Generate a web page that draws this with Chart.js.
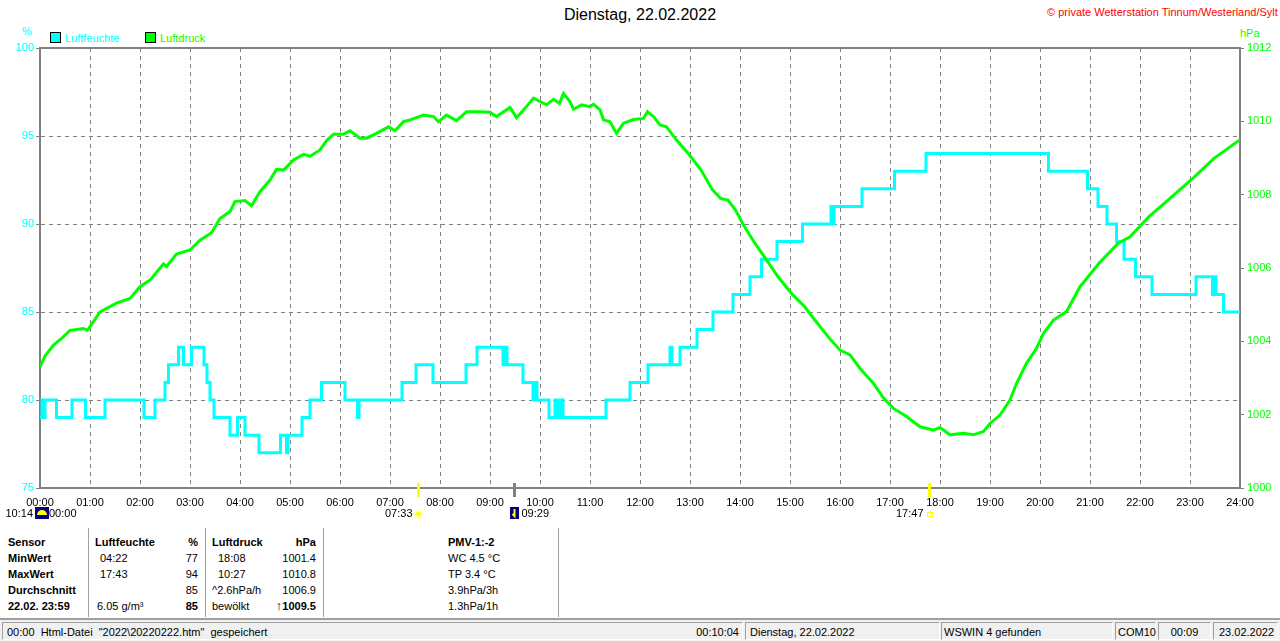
<!DOCTYPE html>
<html lang="de">
<head>
<meta charset="utf-8">
<title>Dienstag, 22.02.2022</title>
<script src="https://cdn.jsdelivr.net/npm/chart.js@4.4.1/dist/chart.umd.min.js"></script>
<style>
  body { margin: 0; width: 1280px; height: 641px; background: #fff; position: relative; overflow: hidden;
         font: 11px 'Liberation Sans', Arial, sans-serif; color: #000; }
  .a { position: absolute; white-space: nowrap; line-height: 16px; }
  .b { font-weight: bold; }
  .r { text-align: right; }
  #wrap { position: absolute; left: 0; top: 0; width: 1280px; height: 520px; }
  .sep { position: absolute; top: 528px; width: 1px; height: 89px; background: #a0a0a0; }
  #status { position: absolute; left: 0; top: 618px; width: 1280px; height: 23px; background: #f0f0f0;
            border-top: 2px solid #a0a0a0; box-sizing: border-box; }
  .pan { position: absolute; top: 2px; height: 18px; line-height: 18px; padding: 0 4px; box-sizing: border-box;
         border-top: 1px solid #a0a0a0; border-left: 1px solid #a0a0a0;
         border-right: 1px solid #fff; border-bottom: 1px solid #fff; white-space: nowrap; }
  .key { display: inline-block; width: 9px; height: 9px; border: 1px solid #000; vertical-align: -1px; margin-right: 4px; }
</style>
</head>
<body>

<div class="a" style="left:0;width:1280px;top:5px;text-align:center;font-size:16px;line-height:20px">Dienstag, 22.02.2022</div>
<div class="a" style="left:1047px;top:4px;color:#ff0000">&copy; private Wetterstation Tinnum/Westerland/Sylt</div>
<div class="a" style="left:22px;top:23px;color:#00ffff">%</div>
<div class="a" style="left:1240px;top:25px;color:#00ff00">hPa</div>
<div class="a" style="left:50px;top:30px;color:#00ffff"><span class="key" style="background:#00ffff"></span>Luftfeuchte</div>
<div class="a" style="left:145px;top:30px;color:#00ff00"><span class="key" style="background:#00ff00"></span>Luftdruck</div>

<div id="wrap"><canvas id="chart"></canvas></div>

<!-- Tabelle -->
<div class="a b" style="left:8px;top:534px">Sensor</div>
<div class="a b" style="left:8px;top:550px">MinWert</div>
<div class="a b" style="left:8px;top:566px">MaxWert</div>
<div class="a b" style="left:8px;top:582px">Durchschnitt</div>
<div class="a b" style="left:8px;top:598px">22.02. 23:59</div>
<div class="sep" style="left:88px"></div>

<div class="a b" style="left:95px;top:534px">Luftfeuchte</div>
<div class="a b r" style="left:160px;width:38px;top:534px">%</div>
<div class="a" style="left:100px;top:550px">04:22</div>
<div class="a r" style="left:160px;width:38px;top:550px">77</div>
<div class="a" style="left:100px;top:566px">17:43</div>
<div class="a r" style="left:160px;width:38px;top:566px">94</div>
<div class="a r" style="left:160px;width:38px;top:582px">85</div>
<div class="a" style="left:97px;top:598px">6.05 g/m³</div>
<div class="a b r" style="left:160px;width:38px;top:598px">85</div>
<div class="sep" style="left:205px"></div>

<div class="a b" style="left:212px;top:534px">Luftdruck</div>
<div class="a b r" style="left:270px;width:46px;top:534px">hPa</div>
<div class="a" style="left:218px;top:550px">18:08</div>
<div class="a r" style="left:270px;width:46px;top:550px">1001.4</div>
<div class="a" style="left:218px;top:566px">10:27</div>
<div class="a r" style="left:270px;width:46px;top:566px">1010.8</div>
<div class="a" style="left:212px;top:582px">^2.6hPa/h</div>
<div class="a r" style="left:260px;width:56px;top:582px">1006.9</div>
<div class="a" style="left:212px;top:598px">bewölkt</div>
<div class="a b r" style="left:250px;width:66px;top:598px"><span style="font-size:13px">&#8593;</span>1009.5</div>
<div class="sep" style="left:323px"></div>

<div class="a b" style="left:448px;top:534px">PMV-1:-2</div>
<div class="a" style="left:448px;top:550px">WC 4.5 °C</div>
<div class="a" style="left:448px;top:566px">TP 3.4 °C</div>
<div class="a" style="left:448px;top:582px">3.9hPa/3h</div>
<div class="a" style="left:448px;top:598px">1.3hPa/1h</div>
<div class="sep" style="left:558px"></div>

<div id="status">
  <div class="pan" style="left:2px;width:741px">00:00&nbsp; Html-Datei&nbsp; "2022\20220222.htm"&nbsp; gespeichert<span style="position:absolute;right:3px">00:10:04</span></div>
  <div class="pan" style="left:745px;width:195px">Dienstag, 22.02.2022</div>
  <div class="pan" style="left:941px;width:172px;padding-left:2px">WSWIN 4 gefunden</div>
  <div class="pan" style="left:1115px;width:41px;padding-left:2px">COM10</div>
  <div class="pan" style="left:1158px;width:53px;text-align:center">00:09</div>
  <div class="pan" style="left:1213px;width:65px;padding-left:5px">23.02.2022</div>
</div>

<script>
// Zeit in Stunden (0–24)
const HOURS = [0, 1, 2, 3, 4, 5, 6, 7, 8, 9, 10, 11, 12, 13, 14, 15, 16, 17, 18, 19, 20, 21, 22, 23, 24];

// Luftfeuchte (%) – Stufenwerte, jeweils gültig ab dem Zeitpunkt
const HUM_T = [0, 0.04, 0.07, 0.10, 0.33, 0.64, 0.91, 1.30, 2.08, 2.30, 2.50, 2.57, 2.77, 2.87, 3.03, 3.28, 3.34,
  3.40, 3.48, 3.80, 3.95, 4.10, 4.38, 4.81, 4.93, 4.96, 5.24, 5.40, 5.63, 6.10, 6.35, 6.38, 7.24, 7.52, 7.86,
  8.52, 8.74, 9.26, 9.29, 9.34, 9.66, 9.86, 9.90, 9.94, 10.18, 10.30, 10.34, 10.40, 10.46, 11.32, 11.80, 12.16,
  12.60, 12.64, 12.80, 13.14, 13.46, 13.86, 14.20, 14.43, 14.74, 15.25, 15.82, 15.85, 15.88, 16.44, 17.09,
  17.72, 20.17, 20.95, 21.16, 21.34, 21.53, 21.68, 21.91, 22.24, 23.12, 23.45, 23.48, 23.52, 23.67, 24];
const HUM_V = [79, 80, 79, 80, 79, 80, 79, 80, 79, 80, 81, 82, 83, 82, 83, 82, 81,
  80, 79, 78, 79, 78, 77, 78, 77, 78, 79, 80, 81, 80, 79, 80, 81, 82, 81,
  82, 83, 82, 83, 82, 81, 80, 81, 80, 79, 80, 79, 80, 79, 80, 81, 82,
  83, 82, 83, 84, 85, 86, 87, 88, 89, 90, 91, 90, 91, 92, 93,
  94, 93, 92, 91, 90, 89, 88, 87, 86, 87, 86, 87, 86, 85, 85];

// Luftdruck (hPa)
const PRESS_T = [0, 0.10, 0.27, 0.45, 0.60, 0.87, 0.95, 1.20, 1.53, 1.80, 2.00, 2.20, 2.47, 2.53, 2.73, 3.00,
  3.20, 3.43, 3.60, 3.80, 3.90, 4.10, 4.23, 4.40, 4.60, 4.73, 4.87, 5.07, 5.27, 5.40, 5.60, 5.73, 5.87, 6.07,
  6.20, 6.40, 6.53, 6.73, 6.97, 7.10, 7.27, 7.40, 7.67, 7.87, 7.97, 8.13, 8.33, 8.53, 8.80, 9.00, 9.13, 9.40,
  9.53, 9.67, 9.77, 9.87, 10.00, 10.13, 10.27, 10.39, 10.47, 10.60, 10.67, 10.83, 11.00, 11.07, 11.20, 11.27,
  11.40, 11.53, 11.67, 11.87, 12.07, 12.15, 12.27, 12.40, 12.53, 12.73, 12.99, 13.22, 13.45, 13.61, 13.76,
  13.91, 14.07, 14.30, 14.53, 14.76, 15.06, 15.29, 15.52, 15.79, 16.00, 16.20, 16.40, 16.67, 16.87, 17.07,
  17.33, 17.60, 17.87, 18.00, 18.20, 18.47, 18.67, 18.87, 19.00, 19.20, 19.40, 19.53, 19.73, 19.93, 20.07,
  20.27, 20.53, 20.80, 21.18, 21.56, 21.80, 22.18, 22.56, 23.02, 23.48, 23.94, 24];
const PRESS_V = [1003.3, 1003.6, 1003.9, 1004.1, 1004.3, 1004.35, 1004.3, 1004.8, 1005.04, 1005.17, 1005.49,
  1005.67, 1006.11, 1006.04, 1006.38, 1006.49, 1006.76, 1006.96, 1007.35, 1007.54, 1007.81, 1007.84, 1007.7,
  1008.08, 1008.4, 1008.69, 1008.67, 1008.95, 1009.1, 1009.05, 1009.22, 1009.47, 1009.65, 1009.65, 1009.74,
  1009.54, 1009.54, 1009.67, 1009.85, 1009.74, 1009.99, 1010.04, 1010.17, 1010.13, 1009.99, 1010.17, 1010.02,
  1010.26, 1010.26, 1010.25, 1010.13, 1010.38, 1010.1, 1010.31, 1010.47, 1010.63, 1010.54, 1010.45, 1010.6,
  1010.49, 1010.76, 1010.54, 1010.33, 1010.45, 1010.4, 1010.47, 1010.31, 1010.04, 1009.99, 1009.67, 1009.95,
  1010.05, 1010.08, 1010.26, 1010.13, 1009.9, 1009.85, 1009.49, 1009.08, 1008.67, 1008.13, 1007.9, 1007.85,
  1007.58, 1007.17, 1006.67, 1006.22, 1005.76, 1005.26, 1004.95, 1004.54, 1004.08, 1003.76, 1003.63, 1003.26,
  1002.85, 1002.45, 1002.17, 1001.95, 1001.67, 1001.58, 1001.65, 1001.45, 1001.49, 1001.45, 1001.54, 1001.76,
  1001.99, 1002.4, 1002.85, 1003.4, 1003.81, 1004.22, 1004.58, 1004.81, 1005.49, 1006.13, 1006.67, 1006.85,
  1007.4, 1007.85, 1008.4, 1008.99, 1009.44, 1009.5];

// Sonne / Mond
const SUN_TIMES  = ['07:33', '17:47'];   // Aufgang, Untergang
const MOON_TIMES = ['09:29'];            // Monduntergang
const MOON_PREV  = '10:14';              // Mondaufgang (Vortag), am linken Rand

const FONT  = "'Liberation Sans', Arial, sans-serif";
const AXIS  = '#808080';
const CYAN  = '#00ffff';
const GREEN = '#00ff00';

const toH = s => { const [h, m] = s.split(':').map(Number); return h + m / 60; };
const pad = n => String(n).padStart(2, '0');

// ── Rahmen oben + Sonne/Mond-Markierungen unter der Zeitachse ─────────────────
const extras = {
  id: 'extras',
  afterDraw(chart) {
    const { ctx, chartArea: a, scales: { x } } = chart;
    ctx.save();
    ctx.strokeStyle = AXIS;
    ctx.lineWidth = 2;
    ctx.beginPath(); ctx.moveTo(a.left, a.top); ctx.lineTo(a.right + 1, a.top); ctx.stroke();

    ctx.font = '11px ' + FONT;
    ctx.textBaseline = 'middle';
    ctx.fillStyle = '#000';
    const ty = 514;

    // linker Rand: Mondsymbol bei 00:00
    const x0 = x.getPixelForValue(0);
    ctx.textAlign = 'right'; ctx.fillText(MOON_PREV, x0 - 7, ty);
    ctx.fillStyle = '#000080'; ctx.fillRect(x0 - 5, 507, 14, 12);
    ctx.fillStyle = '#ffff00';
    ctx.beginPath(); ctx.arc(x0 + 2, 515, 5, Math.PI, 0); ctx.fill();
    ctx.fillStyle = '#000';
    ctx.textAlign = 'left'; ctx.fillText('00:00', x0 + 9, ty);

    SUN_TIMES.forEach((t, i) => {
      const px = Math.round(x.getPixelForValue(toH(t))) + 0.5;
      ctx.strokeStyle = '#ffff00'; ctx.lineWidth = 3;
      ctx.beginPath(); ctx.moveTo(px, 483); ctx.lineTo(px, 497); ctx.stroke();
      ctx.fillStyle = '#000'; ctx.textAlign = 'right';
      ctx.fillText(t, px - 6, ty);
      ctx.lineWidth = 1;
      if (i === 0) {
        ctx.fillStyle = '#ffff00';
        ctx.beginPath(); ctx.arc(px, 514, 2.5, 0, Math.PI * 2); ctx.fill();
        for (let k = 0; k < 8; k++) {
          const ang = k * Math.PI / 4;
          ctx.beginPath();
          ctx.moveTo(px + Math.cos(ang) * 3.5, 514 + Math.sin(ang) * 3.5);
          ctx.lineTo(px + Math.cos(ang) * 5, 514 + Math.sin(ang) * 5);
          ctx.stroke();
        }
      } else {
        ctx.strokeRect(px - 2, 512.5, 5, 4);
      }
    });

    MOON_TIMES.forEach(t => {
      const px = Math.round(x.getPixelForValue(toH(t))) + 0.5;
      ctx.strokeStyle = AXIS; ctx.lineWidth = 3;
      ctx.beginPath(); ctx.moveTo(px, 483); ctx.lineTo(px, 497); ctx.stroke();
      ctx.fillStyle = '#000080'; ctx.fillRect(px - 4.5, 507, 9, 12);
      ctx.strokeStyle = '#ffff00'; ctx.lineWidth = 2;
      ctx.beginPath(); ctx.moveTo(px, 509); ctx.lineTo(px, 516); ctx.lineTo(px - 2, 514); ctx.stroke();
      ctx.fillStyle = '#000'; ctx.textAlign = 'left';
      ctx.fillText(t, px + 7, ty);
    });
    ctx.restore();
  },
};

const tickFont = { family: FONT, size: 11 };

new Chart(document.getElementById('chart'), {
  type: 'line',
  data: {
    datasets: [
      {
        label: 'Luftdruck',
        data: PRESS_T.map((t, i) => ({ x: t, y: PRESS_V[i] })),
        yAxisID: 'y2',
        borderColor: GREEN,
        borderWidth: 3,
        pointRadius: 0,
        tension: 0,
        order: 0,
      },
      {
        label: 'Luftfeuchte',
        data: HUM_T.map((t, i) => ({ x: t, y: HUM_V[i] })),
        yAxisID: 'y',
        borderColor: CYAN,
        borderWidth: 3,
        pointRadius: 0,
        stepped: true,
        order: 1,
      },
    ],
  },
  options: {
    responsive: true,
    maintainAspectRatio: false,
    animation: false,
    layout: { padding: { top: 48, left: 0, right: 0, bottom: 0 } },
    plugins: { legend: { display: false }, tooltip: { enabled: false } },
    scales: {
      x: {
        type: 'linear',
        min: 0, max: 24,
        afterBuildTicks: s => { s.ticks = HOURS.map(v => ({ value: v })); },
        afterFit: s => { s.height = 32; },
        ticks: { color: '#000', font: tickFont, padding: 8, maxRotation: 0, autoSkip: false,
                 callback: v => pad(v) + ':00' },
        grid: { color: AXIS, drawTicks: false },
        border: { color: AXIS, width: 2, dash: [4, 4] },
      },
      y: {
        position: 'left',
        min: 75, max: 100,
        afterFit: s => { s.width = 40; },
        ticks: { stepSize: 5, color: CYAN, font: tickFont, padding: 2, callback: v => String(v) },
        grid: { color: AXIS, tickLength: 4 },
        border: { color: AXIS, width: 2, dash: [4, 4] },
      },
      y2: {
        position: 'right',
        min: 1000, max: 1012,
        afterFit: s => { s.width = 40; },
        ticks: { stepSize: 2, color: GREEN, font: tickFont, padding: 3, callback: v => String(v) },
        grid: { drawOnChartArea: false, color: AXIS, tickLength: 4 },
        border: { color: AXIS, width: 2 },
      },
    },
  },
  plugins: [extras],
});
</script>
</body>
</html>
